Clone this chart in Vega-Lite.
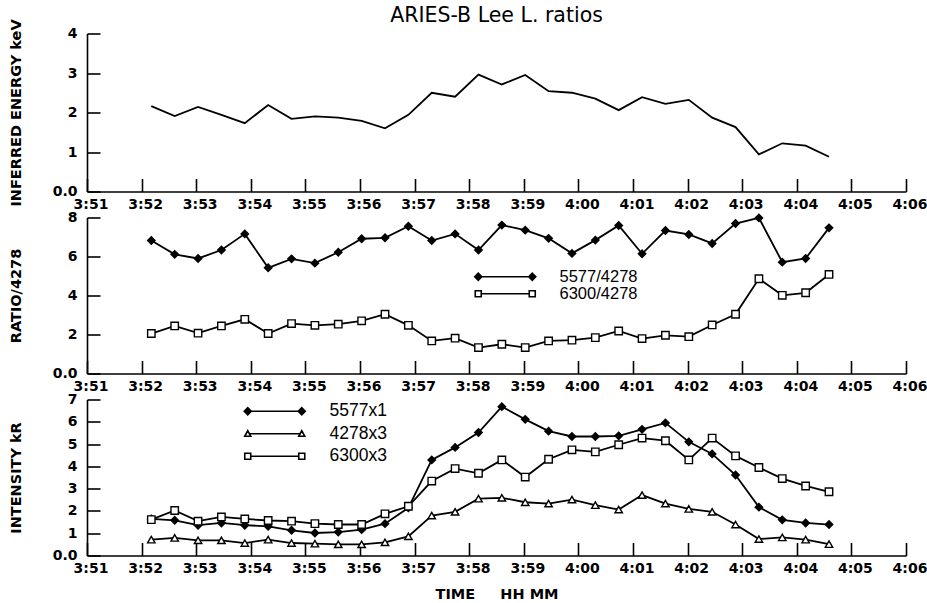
{
  "$schema": "https://vega.github.io/schema/vega-lite/v6.json",
  "autosize": {"type": "pad"},
  "padding": {"left": 7, "top": 5.5, "right": 4, "bottom": 0},
  "background": "white",
  "datasets": {
    "obs": [
      {"t": 52.178, "E": 2.16, "5577/4278": 6.82, "6300/4278": 2.05, "5577x1": 1.64, "4278x3": 0.71, "6300x3": 1.61},
      {"t": 52.606, "E": 1.91, "5577/4278": 6.11, "6300/4278": 2.44, "5577x1": 1.58, "4278x3": 0.79, "6300x3": 2.02},
      {"t": 53.034, "E": 2.14, "5577/4278": 5.90, "6300/4278": 2.07, "5577x1": 1.36, "4278x3": 0.68, "6300x3": 1.54},
      {"t": 53.462, "E": 1.94, "5577/4278": 6.33, "6300/4278": 2.44, "5577x1": 1.46, "4278x3": 0.68, "6300x3": 1.73},
      {"t": 53.890, "E": 1.73, "5577/4278": 7.16, "6300/4278": 2.78, "5577x1": 1.36, "4278x3": 0.56, "6300x3": 1.64},
      {"t": 54.318, "E": 2.19, "5577/4278": 5.42, "6300/4278": 2.05, "5577x1": 1.31, "4278x3": 0.71, "6300x3": 1.57},
      {"t": 54.746, "E": 1.84, "5577/4278": 5.88, "6300/4278": 2.56, "5577x1": 1.13, "4278x3": 0.56, "6300x3": 1.54},
      {"t": 55.174, "E": 1.90, "5577/4278": 5.66, "6300/4278": 2.47, "5577x1": 1.01, "4278x3": 0.53, "6300x3": 1.43},
      {"t": 55.602, "E": 1.87, "5577/4278": 6.22, "6300/4278": 2.53, "5577x1": 1.05, "4278x3": 0.50, "6300x3": 1.39},
      {"t": 56.030, "E": 1.79, "5577/4278": 6.91, "6300/4278": 2.70, "5577x1": 1.16, "4278x3": 0.50, "6300x3": 1.39},
      {"t": 56.458, "E": 1.60, "5577/4278": 6.96, "6300/4278": 3.04, "5577x1": 1.43, "4278x3": 0.59, "6300x3": 1.87},
      {"t": 56.886, "E": 1.94, "5577/4278": 7.55, "6300/4278": 2.47, "5577x1": 2.14, "4278x3": 0.86, "6300x3": 2.21},
      {"t": 57.314, "E": 2.50, "5577/4278": 6.82, "6300/4278": 1.67, "5577x1": 4.29, "4278x3": 1.79, "6300x3": 3.34},
      {"t": 57.742, "E": 2.40, "5577/4278": 7.16, "6300/4278": 1.81, "5577x1": 4.85, "4278x3": 1.96, "6300x3": 3.90},
      {"t": 58.170, "E": 2.96, "5577/4278": 6.33, "6300/4278": 1.33, "5577x1": 5.52, "4278x3": 2.55, "6300x3": 3.69},
      {"t": 58.598, "E": 2.71, "5577/4278": 7.61, "6300/4278": 1.50, "5577x1": 6.68, "4278x3": 2.59, "6300x3": 4.29},
      {"t": 59.026, "E": 2.95, "5577/4278": 7.35, "6300/4278": 1.33, "5577x1": 6.11, "4278x3": 2.39, "6300x3": 3.52},
      {"t": 59.454, "E": 2.54, "5577/4278": 6.93, "6300/4278": 1.67, "5577x1": 5.58, "4278x3": 2.33, "6300x3": 4.32},
      {"t": 59.882, "E": 2.50, "5577/4278": 6.16, "6300/4278": 1.71, "5577x1": 5.34, "4278x3": 2.51, "6300x3": 4.74},
      {"t": 60.310, "E": 2.35, "5577/4278": 6.84, "6300/4278": 1.84, "5577x1": 5.34, "4278x3": 2.26, "6300x3": 4.65},
      {"t": 60.738, "E": 2.06, "5577/4278": 7.59, "6300/4278": 2.18, "5577x1": 5.37, "4278x3": 2.06, "6300x3": 4.97},
      {"t": 61.166, "E": 2.39, "5577/4278": 6.14, "6300/4278": 1.79, "5577x1": 5.66, "4278x3": 2.71, "6300x3": 5.27},
      {"t": 61.594, "E": 2.22, "5577/4278": 7.33, "6300/4278": 1.96, "5577x1": 5.95, "4278x3": 2.33, "6300x3": 5.15},
      {"t": 62.022, "E": 2.32, "5577/4278": 7.13, "6300/4278": 1.89, "5577x1": 5.10, "4278x3": 2.09, "6300x3": 4.29},
      {"t": 62.450, "E": 1.87, "5577/4278": 6.67, "6300/4278": 2.49, "5577x1": 4.56, "4278x3": 1.96, "6300x3": 5.27},
      {"t": 62.878, "E": 1.63, "5577/4278": 7.69, "6300/4278": 3.04, "5577x1": 3.61, "4278x3": 1.39, "6300x3": 4.47},
      {"t": 63.306, "E": 0.94, "5577/4278": 7.98, "6300/4278": 4.86, "5577x1": 2.17, "4278x3": 0.74, "6300x3": 3.95},
      {"t": 63.734, "E": 1.22, "5577/4278": 5.71, "6300/4278": 4.01, "5577x1": 1.60, "4278x3": 0.81, "6300x3": 3.45},
      {"t": 64.162, "E": 1.16, "5577/4278": 5.90, "6300/4278": 4.14, "5577x1": 1.46, "4278x3": 0.71, "6300x3": 3.12},
      {"t": 64.590, "E": 0.88, "5577/4278": 7.47, "6300/4278": 5.08, "5577x1": 1.39, "4278x3": 0.51, "6300x3": 2.86}
    ]
  },
  "config": {
    "view": {"stroke": null},
    "font": "DejaVu Sans",
    "axis": {
      "domainColor": "black", "domainWidth": 1.6,
      "tickColor": "black", "tickWidth": 1.6, "tickSize": -13,
      "grid": false,
      "labelFont": "DejaVu Sans", "labelFontWeight": "bold", "labelFontSize": 14, "labelColor": "black",
      "titleFont": "DejaVu Sans", "titleFontWeight": "bold", "titleFontSize": 14.5, "titleColor": "black",
      "labelOverlap": false
    },
    "axisX": {"labelPadding": 18.7, "labelOffset": 3.5, "labelFlush": false},
    "axisY": {"labelPadding": 23, "titleBaseline": "alphabetic", "titleX": -67},
    "legend": {
      "orient": "none", "padding": 0, "offset": 0,
      "labelFont": "Liberation Sans", "labelFontSize": 17.5, "labelColor": "black",
      "symbolSize": 4, "labelOffset": 46, "labelLimit": 0,
      "symbolStrokeWidth": 1.6, "symbolStrokeColor": "black"
    }
  },
  "spacing": 26,
  "bounds": "flush",
  "vconcat": [
    {
      "width": 819, "height": 158,
      "title": {"text": "ARIES-B Lee L. ratios", "font": "DejaVu Sans", "fontSize": 20.5, "fontWeight": "normal", "color": "black", "anchor": "middle", "offset": -8, "frame": "group"},
      "data": {"name": "obs"},
      "mark": {"type": "line", "color": "black", "strokeWidth": 1.8},
      "encoding": {
        "x": {"field": "t", "type": "quantitative", "scale": {"domain": [51, 66], "nice": false, "zero": false},
              "axis": {"values": [51,52,53,54,55,56,57,58,59,60,61,62,63,64,65,66], "title": null,
                       "labelExpr": "datum.value < 60 ? '3:' + datum.value : '4:0' + (datum.value - 60)"}},
        "y": {"field": "E", "type": "quantitative", "scale": {"domain": [0, 4], "nice": false},
              "axis": {"values": [0,1,2,3,4], "labelExpr": "datum.value == 0 ? '0.0' : datum.label",
                       "title": "INFERRED ENERGY keV", "titleY": 79}}
      }
    },
    {
      "width": 819, "height": 156,
      "data": {"name": "obs"},
      "transform": [{"fold": ["5577/4278", "6300/4278"], "as": ["series", "value"]}],
      "resolve": {"scale": {"shape": "independent", "fill": "independent", "stroke": "independent"}, "legend": {"shape": "independent", "fill": "independent", "stroke": "independent"}},
      "encoding": {
        "x": {"field": "t", "type": "quantitative", "scale": {"domain": [51, 66], "nice": false, "zero": false},
              "axis": {"values": [51,52,53,54,55,56,57,58,59,60,61,62,63,64,65,66], "title": null,
                       "labelExpr": "datum.value < 60 ? '3:' + datum.value : '4:0' + (datum.value - 60)"}},
        "y": {"field": "value", "type": "quantitative", "scale": {"domain": [0, 8], "nice": false},
              "axis": {"values": [0,2,4,6,8], "labelExpr": "datum.value == 0 ? '0.0' : datum.label",
                       "title": "RATIO/4278", "titleY": 78}}
      },
      "layer": [
        {"mark": {"type": "line", "color": "black", "strokeWidth": 1.8},
         "encoding": {"detail": {"field": "series", "type": "nominal"}}},
        {"mark": {"type": "point", "filled": true, "stroke": "black", "strokeWidth": 1.4, "size": 55, "opacity": 1},
         "encoding": {
           "shape": {"field": "series", "type": "nominal", "scale": {"domain": ["5577/4278", "6300/4278"], "range": ["diamond", "square"]}, "legend": null},
           "fill": {"field": "series", "type": "nominal", "scale": {"domain": ["5577/4278", "6300/4278"], "range": ["black", "white"]}, "legend": null}
         }},
        {"data": {"values": []},
         "mark": {"type": "point", "filled": true, "strokeWidth": 1.6, "opacity": 1},
         "encoding": {
           "x": null, "y": null,
           "shape": {"field": "series", "type": "nominal",
                     "scale": {"domain": ["5577/4278", "6300/4278"],
                               "range": ["M-24,0L24,0M-30.5,0L-27,-3.5L-23.5,0L-27,3.5ZM23.5,0L27,-3.5L30.5,0L27,3.5Z",
                                         "M-24,0L24,0M-30,-3H-24V3H-30ZM24,-3H30V3H24Z"]},
                     "legend": {"title": null, "legendX": 410, "legendY": 51, "rowPadding": 0, "labelFontSize": 16.5}},
           "fill": {"field": "series", "type": "nominal",
                    "scale": {"domain": ["5577/4278", "6300/4278"], "range": ["black", "white"]},
                    "legend": {"title": null, "legendX": 410, "legendY": 51, "rowPadding": 0, "labelFontSize": 16.5}},
           "stroke": {"field": "series", "type": "nominal",
                      "scale": {"domain": ["5577/4278", "6300/4278"], "range": ["black", "black"]},
                      "legend": {"title": null, "legendX": 410, "legendY": 51, "rowPadding": 0, "labelFontSize": 16.5}}
         }}
      ]
    },
    {
      "width": 819, "height": 156,
      "data": {"name": "obs"},
      "transform": [{"fold": ["5577x1", "4278x3", "6300x3"], "as": ["series", "value"]}],
      "resolve": {"scale": {"shape": "independent", "fill": "independent", "stroke": "independent"}, "legend": {"shape": "independent", "fill": "independent", "stroke": "independent"}},
      "encoding": {
        "x": {"field": "t", "type": "quantitative", "scale": {"domain": [51, 66], "nice": false, "zero": false},
              "axis": {"values": [51,52,53,54,55,56,57,58,59,60,61,62,63,64,65,66], "title": "TIME\u00a0\u00a0\u00a0\u00a0\u00a0HH MM",
                       "titleBaseline": "alphabetic", "titleX": 409.5, "titleY": 42.5,
                       "labelExpr": "datum.value < 60 ? '3:' + datum.value : '4:0' + (datum.value - 60)"}},
        "y": {"field": "value", "type": "quantitative", "scale": {"domain": [0, 7], "nice": false},
              "axis": {"values": [0,1,2,3,4,5,6,7], "labelExpr": "datum.value == 0 ? '0.0' : datum.label",
                       "title": "INTENSITY kR", "titleY": 78}}
      },
      "layer": [
        {"mark": {"type": "line", "color": "black", "strokeWidth": 1.8},
         "encoding": {"detail": {"field": "series", "type": "nominal"}}},
        {"mark": {"type": "point", "filled": true, "stroke": "black", "strokeWidth": 1.4, "size": 55, "opacity": 1},
         "encoding": {
           "shape": {"field": "series", "type": "nominal", "scale": {"domain": ["5577x1", "4278x3", "6300x3"], "range": ["diamond", "triangle-up", "square"]}, "legend": null},
           "fill": {"field": "series", "type": "nominal", "scale": {"domain": ["5577x1", "4278x3", "6300x3"], "range": ["black", "white", "white"]}, "legend": null}
         }},
        {"data": {"values": []},
         "mark": {"type": "point", "filled": true, "strokeWidth": 1.6, "opacity": 1},
         "encoding": {
           "x": null, "y": null,
           "shape": {"field": "series", "type": "nominal",
                     "scale": {"domain": ["5577x1", "4278x3", "6300x3"],
                               "range": ["M-24,0L24,0M-30.5,0L-27,-3.5L-23.5,0L-27,3.5ZM23.5,0L27,-3.5L30.5,0L27,3.5Z",
                                         "M-25.4,0L25.4,0M-30,2.5L-27,-3L-24,2.5ZM24,2.5L27,-3L30,2.5Z",
                                         "M-24,0L24,0M-30,-3H-24V3H-30ZM24,-3H30V3H24Z"]},
                     "legend": {"title": null, "legendX": 179, "legendY": 3, "rowPadding": 3.5}},
           "fill": {"field": "series", "type": "nominal",
                    "scale": {"domain": ["5577x1", "4278x3", "6300x3"], "range": ["black", "white", "white"]},
                    "legend": {"title": null, "legendX": 179, "legendY": 3, "rowPadding": 3.5}},
           "stroke": {"field": "series", "type": "nominal",
                      "scale": {"domain": ["5577x1", "4278x3", "6300x3"], "range": ["black", "black", "black"]},
                      "legend": {"title": null, "legendX": 179, "legendY": 3, "rowPadding": 3.5}}
         }}
      ]
    }
  ]
}
